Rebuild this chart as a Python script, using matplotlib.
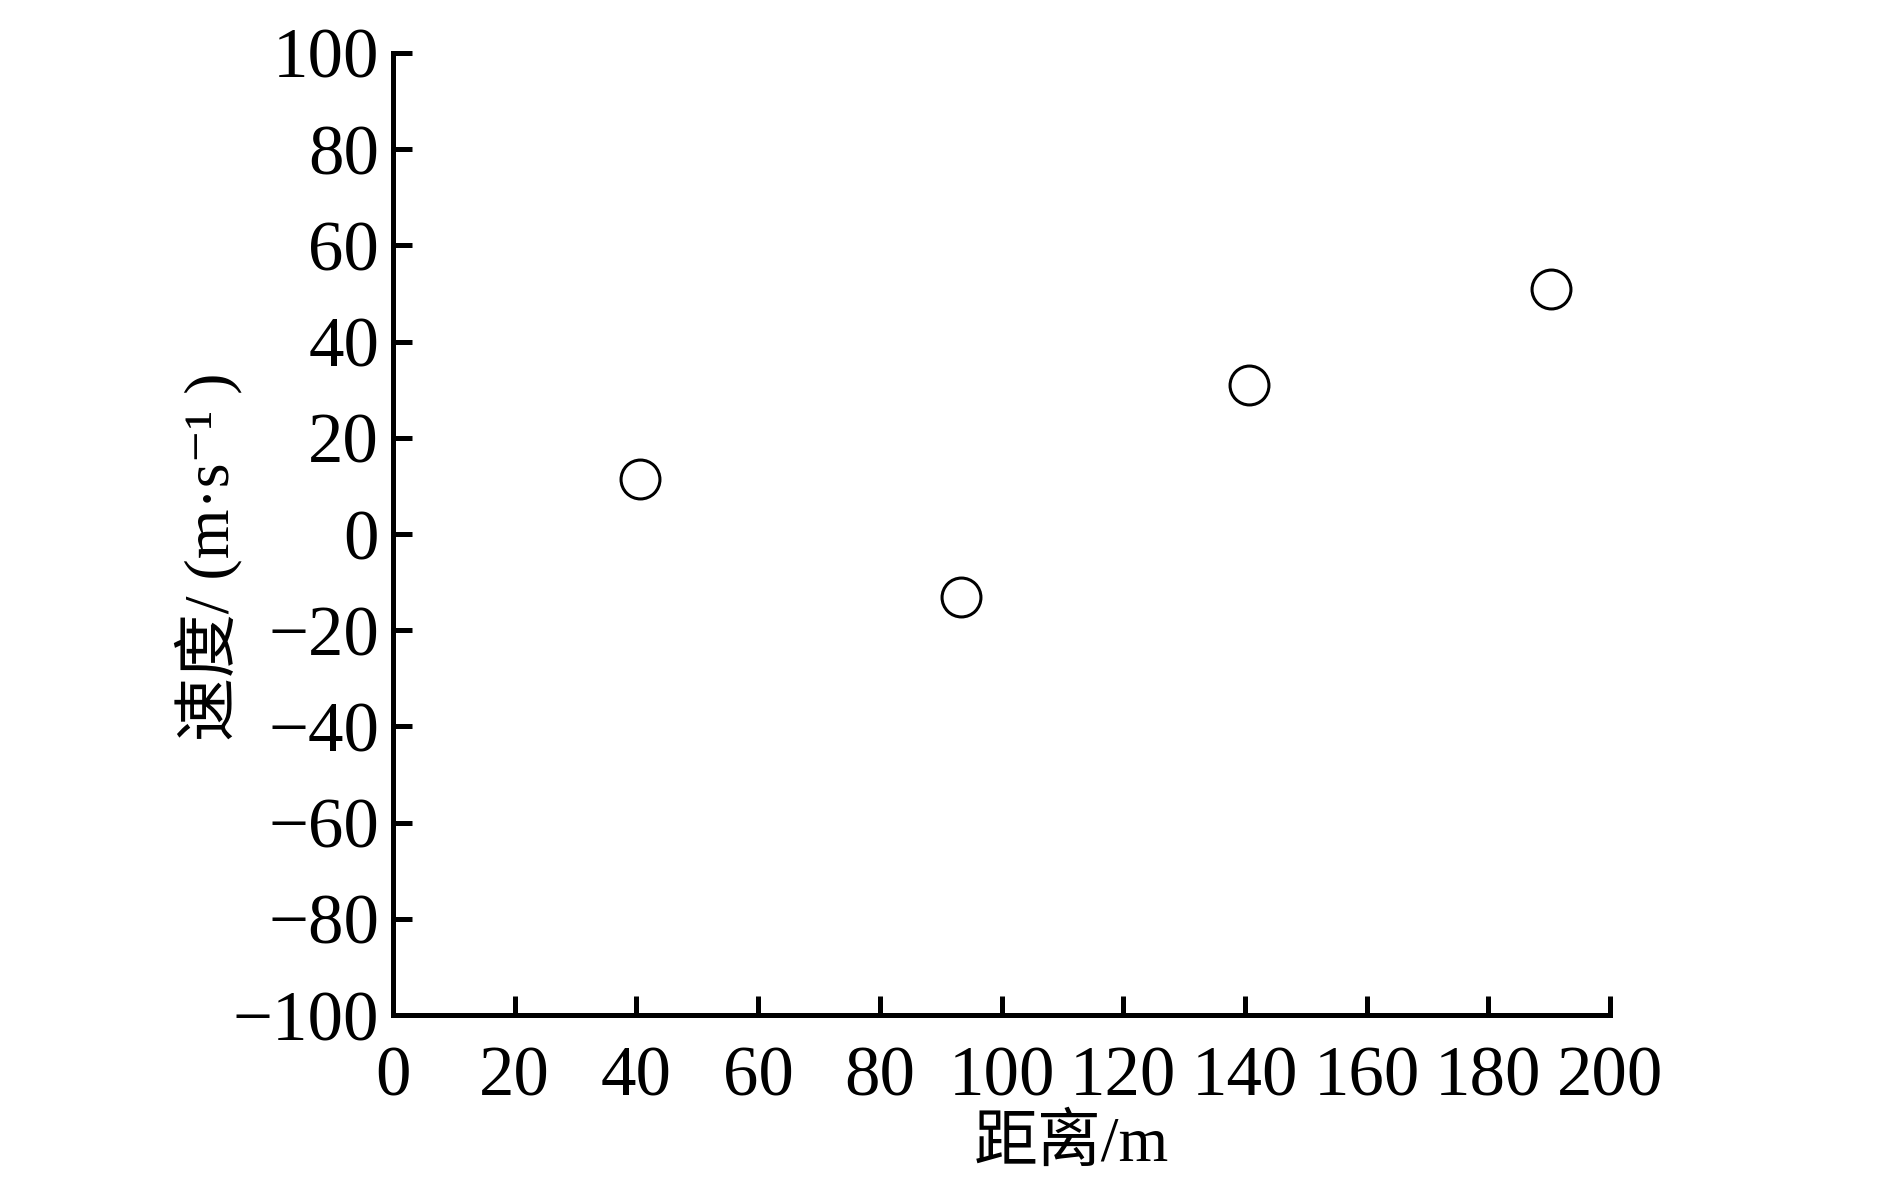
import matplotlib
matplotlib.use("Agg")
import matplotlib.pyplot as plt

plt.rcParams['font.family'] = ['Liberation Serif', 'Noto Sans CJK SC', 'DejaVu Sans']

# data
distance = [40.6, 93.3, 140.7, 190.3]
speed = [11.4, -13.1, 31.0, 50.9]

x_ticks = list(range(0, 201, 20))
y_ticks = list(range(-100, 101, 20))

fig = plt.figure(figsize=(18.87, 11.8), dpi=100)
ax = fig.add_axes([0.2083, 0.1398, 0.6449, 0.8153])

ax.plot(distance, speed, linestyle='none', marker='o', markersize=28,
        markerfacecolor='white', markeredgecolor='black', markeredgewidth=2.2)

ax.set_xlim(0, 200)
ax.set_ylim(-100, 100)
ax.set_xticks(x_ticks)
ax.set_yticks(y_ticks)
ax.set_yticklabels([str(v).replace('-', '\u2212') for v in y_ticks])

for side in ['top', 'right']:
    ax.spines[side].set_visible(False)
for side in ['left', 'bottom']:
    ax.spines[side].set_linewidth(3.6)

ax.tick_params(direction='in', length=14, width=3.6, labelsize=51, pad=10)
ax.tick_params(axis='x', pad=22)

ax.set_xlabel('距离/m', fontsize=46)
ax.xaxis.set_label_coords(0.557, -0.104)
ax.set_ylabel('速度/ (m·s⁻¹ )', fontsize=46)
ax.yaxis.set_label_coords(-0.124, 0.476)

fig.savefig('out.png', dpi=100, facecolor='white')
